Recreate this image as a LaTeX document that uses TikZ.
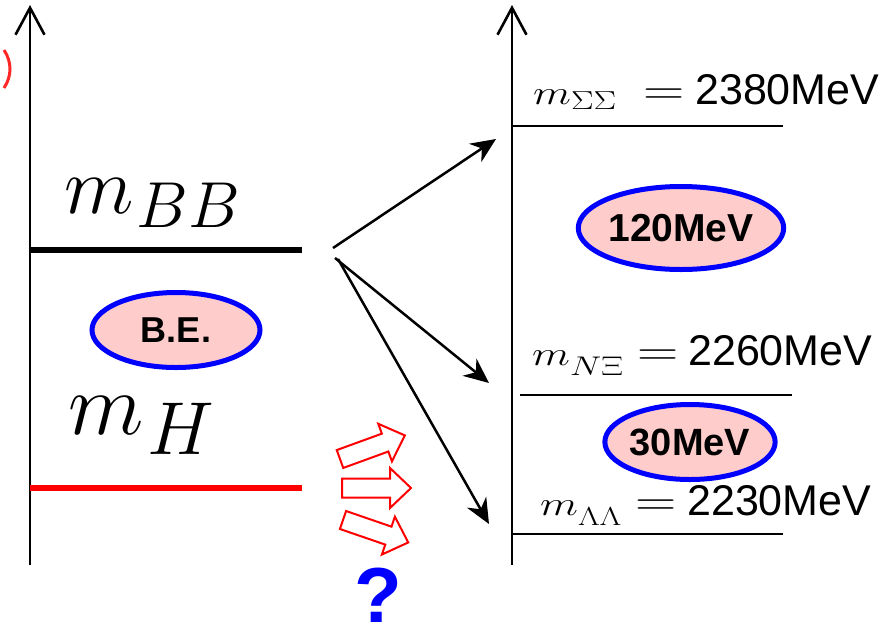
\RequirePackage{fix-cm}
\documentclass[tikz,border=0pt]{standalone}
\usepackage{fontspec}
\newfontfamily\lsans{Liberation Sans}
\usetikzlibrary{arrows.meta,shapes.geometric}
\definecolor{pinkfill}{RGB}{255,204,204}
\begin{document}
\begin{tikzpicture}[x=1pt,y=-1pt,
  axis/.style={line width=2.6pt,-{Straight Barb[length=27pt,width=29pt,line width=2.6pt]}},
  thicklevel/.style={line width=6pt},
  thinlevel/.style={line width=2.2pt},
  conn/.style={line width=2.5pt,-{Stealth[length=25pt,width=22pt,inset=8pt]}},
  bubble/.style={ellipse,draw=blue,line width=5pt,fill=pinkfill,inner sep=0pt,
    font=\lsans\bfseries},
  lab/.style={anchor=base west,inner sep=0pt},
  eqsign/.style={},
  pics/harrow/.style={code={\draw[red,line width=2pt,line join=miter]
     (0,-9.5) -- (48,-9.5) -- (48,-20) -- (69,0) -- (48,20) -- (48,9.5) -- (0,9.5) -- cycle;}}
]
\useasboundingbox (0,0) rectangle (886,630);

% clipped red fragment at left edge
\draw[red!85,line width=3pt] (4,50) .. controls (12,62) and (12,76) .. (4,88);

% axes
\coordinate (lbot) at (30,565);
\coordinate (ltop) at (30,5);
\coordinate (rbot) at (512,565);
\coordinate (rtop) at (512,5);
\draw[axis] (lbot) -- (ltop);
\draw[axis] (rbot) -- (rtop);

% left levels
\coordinate (bbL) at (30,250);
\coordinate (bbR) at (302,250);
\coordinate (hL) at (30,488);
\coordinate (hR) at (302,488);
\draw[thicklevel,black] (bbL) -- (bbR);
\draw[thicklevel,red] (hL) -- (hR);

% right levels
\coordinate (ssL) at (512,126);
\coordinate (ssR) at (783,126);
\coordinate (nxL) at (520,395);
\coordinate (nxR) at (792,395);
\coordinate (llL) at (512,534);
\coordinate (llR) at (783,534);
\draw[thinlevel] (ssL) -- (ssR);
\draw[thinlevel] (nxL) -- (nxR);
\draw[thinlevel] (llL) -- (llR);

% left labels
\node[lab] (mbb) at (64,213) {\fontsize{81}{86}\selectfont$m$\hspace{3pt}\raisebox{-14pt}{\fontsize{65}{70}\selectfont$BB$}};
\node[lab] (mh) at (68,434) {\fontsize{88}{92}\selectfont$m$\hspace{4pt}\raisebox{-20pt}{\fontsize{75}{80}\selectfont$H$}};

% right labels
\node[lab] (lss) at (533,104) {\makebox[110pt][l]{\scalebox{1.3}[1]{\fontsize{34}{36}\selectfont$m$\raisebox{-5pt}{\fontsize{26}{28}\selectfont$\Sigma\Sigma$}}}\makebox[52pt][l]{\scalebox{1.3}[1]{\fontsize{44}{46}\selectfont$=$}}{\lsans\fontsize{43}{46}\selectfont 2380MeV}};
\node[lab] (lnx) at (532,365) {\makebox[105pt][l]{\scalebox{1.3}[1]{\fontsize{34}{36}\selectfont$m$\raisebox{-10pt}{\fontsize{27}{29}\selectfont$N\Xi$}}}\makebox[51pt][l]{\scalebox{1.3}[1]{\fontsize{44}{46}\selectfont$=$}}{\lsans\fontsize{43}{46}\selectfont 2260MeV}};
\node[lab] (lll) at (540,515) {\makebox[95pt][l]{\scalebox{1.3}[1]{\fontsize{34}{36}\selectfont$m$\raisebox{-10pt}{\fontsize{26}{28}\selectfont$\Lambda\Lambda$}}}\makebox[52pt][l]{\scalebox{1.3}[1]{\fontsize{44}{46}\selectfont$=$}}{\lsans\fontsize{43}{46}\selectfont 2230MeV}};

% bubbles
\node[bubble,minimum width=168pt,minimum height=75pt,font=\lsans\bfseries\fontsize{36}{40}\selectfont] (be) at (176,330) {B.E.};
\node[bubble,minimum width=185pt,minimum height=83pt,font=\lsans\bfseries\fontsize{39}{42}\selectfont] (e120) at (681,228) {120MeV};
\node[bubble,minimum width=170pt,minimum height=75pt,font=\lsans\bfseries\fontsize{38}{42}\selectfont] (e30) at (690,442) {30MeV};

% connectors
\coordinate (s1) at (333,248);
\coordinate (t1) at (496,139);
\coordinate (s2) at (335,258);
\coordinate (t2) at (489,383);
\coordinate (s3) at (338,259);
\coordinate (t3) at (489,524);
\draw[conn] (s1) -- (t1);
\draw[conn] (s2) -- (t2);
\draw[conn] (s3) -- (t3);

% hollow red arrows
\pic[rotate=20] at (340,459) {harrow};
\pic at (342,488) {harrow};
\pic[rotate=-19] at (343,520) {harrow};

% question mark
\node[anchor=base,inner sep=0pt,text=blue,font=\lsans\bfseries\fontsize{78}{78}\selectfont] (q) at (378,622) {?};
\end{tikzpicture}
\end{document}
